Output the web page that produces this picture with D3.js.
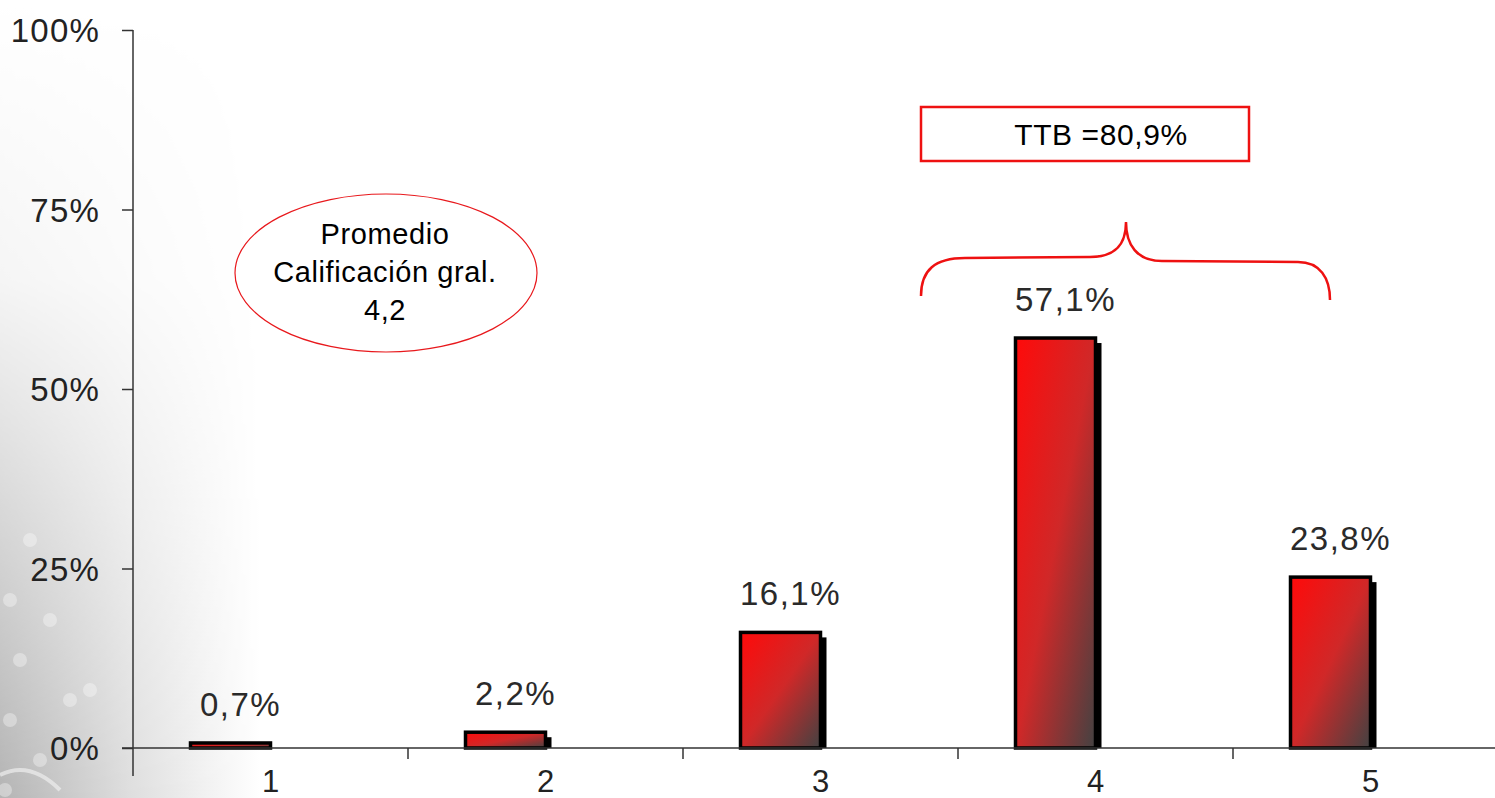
<!DOCTYPE html>
<html>
<head>
<meta charset="utf-8">
<script src="https://cdn.jsdelivr.net/npm/d3@7"></script>
<style>
html,body{margin:0;padding:0;background:#fff;overflow:hidden;}
svg{display:block;}
</style>
</head>
<body>
<svg id="chart" width="1495" height="798"></svg>
<script>
const categories = ["1","2","3","4","5"];
const seriesKeys = ["pct","blank"];
const values = [0.007, 0.022, 0.161, 0.571, 0.238];
const valueLabels = ["0,7%","2,2%","16,1%","57,1%","23,8%"];
const yTicks = [0, 0.25, 0.5, 0.75, 1];
const ovalLines = ["Promedio","Calificación gral.","4,2"];
const ttbLabel = "TTB =80,9%";

const W = 1495, H = 798;
const FONT = "Liberation Sans, Arial, sans-serif";
const svg = d3.select("#chart");
const defs = svg.append("defs");

// background
const bgG = defs.append("linearGradient").attr("id","bgL").attr("x1","0").attr("x2","1").attr("y1","0").attr("y2","0");
bgG.append("stop").attr("offset","0").attr("stop-color","#b4b4b4");
bgG.append("stop").attr("offset","0.5").attr("stop-color","#dedede");
bgG.append("stop").attr("offset","1").attr("stop-color","#ffffff");
const bgM = defs.append("linearGradient").attr("id","bgMask").attr("x1","0").attr("x2","0").attr("y1","0").attr("y2","1");
bgM.append("stop").attr("offset","0").attr("stop-color","#000");
bgM.append("stop").attr("offset","0.35").attr("stop-color","#222");
bgM.append("stop").attr("offset","1").attr("stop-color","#fff");
defs.append("mask").attr("id","m1").append("rect").attr("width",W).attr("height",H).attr("fill","url(#bgMask)");
svg.append("rect").attr("width",W).attr("height",H).attr("fill","#fff");
svg.append("rect").attr("width",260).attr("height",H).attr("fill","url(#bgL)").attr("mask","url(#m1)");
const flakes = [[30,540],[10,600],[50,620],[20,660],[70,700],[10,720],[40,760],[5,790],[90,690]];
svg.append("g").selectAll("circle").data(flakes).join("circle")
  .attr("cx",d=>d[0]).attr("cy",d=>d[1]).attr("r",7).attr("fill","#fff").attr("opacity",0.35);
svg.append("path").attr("d","M0,775 Q30,760 60,790").attr("fill","none").attr("stroke","#eee").attr("stroke-width",4).attr("opacity",0.7);

// scales
const x = d3.scaleBand().domain(categories).range([133, 1508]).padding(0);
const xs = d3.scaleBand().domain(seriesKeys).range([0, x.bandwidth()]).paddingInner(0).paddingOuter(0.71875);
const y = d3.scaleLinear().domain([0,1]).range([748, 30]);

const bg = defs.append("linearGradient").attr("id","barG").attr("x1","0").attr("y1","0").attr("x2","1").attr("y2","1");
bg.append("stop").attr("offset","0").attr("stop-color","#ff0a0a");
bg.append("stop").attr("offset","0.5").attr("stop-color","#d02828");
bg.append("stop").attr("offset","1").attr("stop-color","#424242");

// y axis
const yAxis = d3.axisLeft(y).tickValues(yTicks).tickFormat(d=>Math.round(d*100)+"%").tickSize(11).tickPadding(22).tickSizeOuter(0);
const gy = svg.append("g").attr("transform","translate(133,0)").call(yAxis);
gy.select(".domain").remove();
gy.selectAll(".tick line").attr("stroke","#333").attr("stroke-width",1.5);
gy.selectAll(".tick text").attr("font-family",FONT).attr("font-size",33).attr("letter-spacing",1.2).attr("fill","#222").attr("dy","0.36em");
svg.append("line").attr("x1",133).attr("x2",133).attr("y1",y(1)).attr("y2",776).attr("stroke","#333").attr("stroke-width",1.5);

// bars
const barsG = svg.append("g");
const bw = xs.bandwidth();
barsG.selectAll("rect.shadow").data(values).join("rect").attr("class","shadow")
  .attr("x",(d,i)=>x(categories[i])+xs("pct")+6)
  .attr("y",d=>y(d)+5)
  .attr("width",bw)
  .attr("height",d=>Math.max(0,y(0)-y(d)-5))
  .attr("fill","#000");
barsG.selectAll("rect.bar").data(values).join("rect").attr("class","bar")
  .attr("x",(d,i)=>x(categories[i])+xs("pct"))
  .attr("y",d=>y(d))
  .attr("width",bw)
  .attr("height",d=>y(0)-y(d))
  .attr("fill","url(#barG)")
  .attr("stroke","#000").attr("stroke-width",3.5);

// x axis
svg.append("line").attr("x1",122).attr("x2",W).attr("y1",y(0)).attr("y2",y(0)).attr("stroke","#333").attr("stroke-width",1.5);
const xAxis = d3.axisBottom(x).tickSize(0).tickPadding(22);
const gx = svg.append("g").attr("transform",`translate(0,${y(0)})`).call(xAxis);
gx.select(".domain").remove();
gx.selectAll(".tick text").attr("font-family",FONT).attr("font-size",31).attr("fill","#222");
svg.append("g").selectAll("line").data(categories.slice(1)).join("line")
  .attr("x1",d=>x(d)).attr("x2",d=>x(d)).attr("y1",y(0)).attr("y2",y(0)+11)
  .attr("stroke","#333").attr("stroke-width",1.5);

// value labels
svg.append("g").selectAll("text").data(values).join("text")
  .attr("x",(d,i)=>x(categories[i])+xs("pct")+bw/2+10)
  .attr("y",d=>y(d)-27)
  .attr("text-anchor","middle")
  .attr("font-family",FONT).attr("font-size",33).attr("letter-spacing",1.5)
  .attr("fill","#2a2a2a")
  .text((d,i)=>valueLabels[i]);

// oval annotation
svg.append("ellipse").attr("cx",386).attr("cy",273).attr("rx",151).attr("ry",79)
  .attr("fill","#fff").attr("stroke","#e8181c").attr("stroke-width",1.2);
svg.append("g").selectAll("text").data(ovalLines).join("text")
  .attr("x",385).attr("y",(d,i)=>244+i*38)
  .attr("text-anchor","middle")
  .attr("font-family",FONT).attr("font-size",29).attr("letter-spacing",0.6).attr("fill","#000")
  .text(d=>d);

// TTB box
svg.append("rect").attr("x",921).attr("y",107).attr("width",328).attr("height",54)
  .attr("fill","#fff").attr("stroke","#ee1111").attr("stroke-width",2.5);
svg.append("text").attr("x",1101).attr("y",145).attr("text-anchor","middle")
  .attr("font-family",FONT).attr("font-size",30).attr("letter-spacing",0.6).attr("fill","#000")
  .text(ttbLabel);

// brace
svg.append("path")
  .attr("d","M921,296 C921,270 935,258 965,258 L1090,257 C1115,257 1126,245 1126,222 C1126,245 1137,261 1162,261 L1298,262 C1320,262 1330,278 1330,300")
  .attr("fill","none").attr("stroke","#ee1111").attr("stroke-width",2.5);
</script>
</body>
</html>
